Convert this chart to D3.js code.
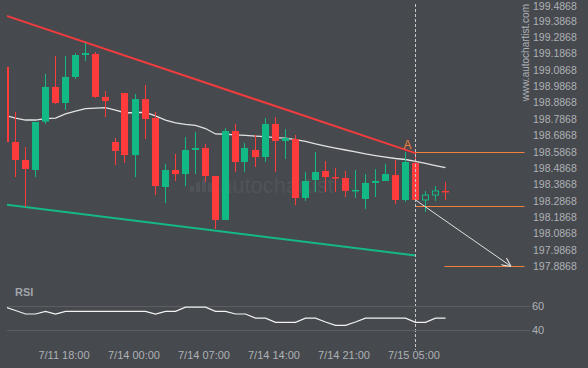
<!DOCTYPE html>
<html>
<head>
<meta charset="utf-8">
<script src="https://cdn.jsdelivr.net/npm/d3@7"></script>
<style>
  html, body { margin: 0; padding: 0; background: #46494e; }
  svg { display: block; }
  text { font-family: "Liberation Sans", Arial, sans-serif; }
</style>
</head>
<body>
<svg id="chart" width="588" height="368"></svg>
<script>
// ---- data ----
const opens  = [199.104,198.646,198.536,198.475,198.770,198.982,198.884,199.043,199.177,199.183,198.921,198.646,198.945,198.566,198.908,198.792,198.371,198.475,198.450,198.597,198.609,198.438,198.170,198.713,198.524,198.597,198.554,198.756,198.652,198.664,198.304,198.414,198.469,198.432,198.426,198.347,198.298,198.396,198.408,198.444,198.292,198.518,198.292,198.322,198.347];
const highs  = [199.104,198.829,198.615,198.768,199.061,199.171,199.171,199.189,199.250,199.195,198.957,198.670,198.945,198.939,198.994,198.829,198.512,198.573,198.676,198.707,198.634,198.438,198.731,198.756,198.640,198.689,198.792,198.798,198.725,198.689,198.463,198.585,198.530,198.487,198.469,198.475,198.450,198.481,198.512,198.536,198.585,198.585,198.347,198.377,198.402];
const lows   = [198.640,198.432,198.249,198.432,198.756,198.878,198.841,199.030,199.140,198.914,198.798,198.505,198.518,198.432,198.664,198.322,198.273,198.408,198.377,198.450,198.402,198.115,198.170,198.463,198.463,198.493,198.524,198.463,198.542,198.261,198.286,198.341,198.341,198.341,198.310,198.304,198.237,198.310,198.408,198.267,198.280,198.292,198.218,198.286,198.292];
const closes = [198.646,198.536,198.481,198.768,198.982,198.884,199.043,199.177,199.189,198.921,198.896,198.591,198.566,198.908,198.786,198.377,198.475,198.450,198.597,198.609,198.438,198.170,198.713,198.524,198.609,198.554,198.756,198.652,198.670,198.304,198.408,198.463,198.432,198.426,198.347,198.353,198.396,198.408,198.450,198.292,198.524,198.292,198.322,198.347,198.341];
const maValues = [198.808,198.792,198.780,198.780,198.789,198.792,198.817,198.835,198.850,198.853,198.856,198.841,198.823,198.826,198.826,198.805,198.780,198.762,198.753,198.747,198.728,198.695,198.693,198.689,198.686,198.682,198.679,198.673,198.670,198.661,198.649,198.634,198.621,198.609,198.597,198.585,198.573,198.563,198.554,198.545,198.539,198.527,198.515,198.502,198.490];
const rsiValues = [59.0,56.3,53.4,53.4,55.6,53.4,55.6,55.6,55.6,55.6,55.6,55.6,55.6,55.6,55.6,53.4,55.6,55.6,59.0,59.0,59.0,55.6,55.6,53.4,53.4,50.0,50.0,46.6,46.6,46.6,50.0,50.0,46.8,44.1,44.1,46.8,50.0,50.0,50.0,50.0,50.0,46.6,46.6,50.0,50.0];
const xTickIndex  = [6, 13, 20, 27, 34, 41];
const xTickLabels = ["7/11 18:00","7/14 00:00","7/14 07:00","7/14 14:00","7/14 21:00","7/15 05:00"];
const yTickValues = [199.4868,199.3868,199.2868,199.1868,199.0868,198.9868,198.8868,198.7868,198.6868,198.5868,198.4868,198.3868,198.2868,198.1868,198.0868,197.9868,197.8868];
const rsiTicks = [60, 40];
const resistanceLine = [[0, 199.418], [41, 198.578]];
const supportLine    = [[0, 198.264], [41, 197.953]];
const patternIndex = 41;
const resistanceLevel = 198.5868;
const supportLevel = 198.258;
const targetLevel = 197.8868;
const levelEndIndex = 51.9;
const targetStartIndex = 43.9;
const forecastArrow = [[41, 198.292], [50.55, 197.8868]];

// ---- styles ----
const BG = "#46494e", UP = "#13b985", DOWN = "#ff3b3b", ORANGE = "#f0803c", TXT = "#aeb1b5";

const svg = d3.select("#chart");
const x = d3.scaleLinear().domain([0, 44]).range([5.5, 445.5]);
const y = d3.scaleLinear().domain([197.8868, 198.5868]).range([266.33, 151.67]);
const yr = d3.scaleLinear().domain([40, 60]).range([330.3, 306]);

svg.append("rect").attr("width", 588).attr("height", 368).attr("fill", BG);

const defs = svg.append("defs");
defs.append("clipPath").attr("id", "mainClip").append("rect").attr("x", 7).attr("y", 0).attr("width", 523).attr("height", 280);
defs.append("clipPath").attr("id", "rsiClip").append("rect").attr("x", 7).attr("y", 290).attr("width", 523).attr("height", 50);
defs.append("marker").attr("id", "arrow").attr("viewBox", "0 0 10 10").attr("refX", 10).attr("refY", 5)
  .attr("markerWidth", 9).attr("markerHeight", 9).attr("orient", "auto").attr("markerUnits", "userSpaceOnUse")
  .append("path").attr("d", "M0,0 L10,5 L0,10").attr("fill", "none").attr("stroke", "#e0e0e0").attr("stroke-width", 1.2);

// watermark
const wm = svg.append("g");
[[0,6],[1,10],[2,14],[3,9]].forEach(([k,h]) => {
  wm.append("rect").attr("x", 190 + k * 6).attr("y", 192 - h).attr("width", 4).attr("height", h).attr("fill", "#505459");
});
wm.append("text").attr("x", 220).attr("y", 193).attr("font-size", 22).attr("fill", "#505459").text("autochartist");

// vertical watermark
svg.append("text").attr("transform", "translate(528.5,4) rotate(-90)").attr("text-anchor", "end")
  .attr("font-size", 10).attr("fill", TXT).text("www.autochartist.com");

const main = svg.append("g").attr("clip-path", "url(#mainClip)");

// trend lines
const ln = d3.line().x(d => x(d[0])).y(d => y(d[1]));
main.append("path").attr("d", ln(resistanceLine)).attr("stroke", "#f03c3c").attr("stroke-width", 2).attr("fill", "none");
main.append("path").attr("d", ln(supportLine)).attr("stroke", "#14b986").attr("stroke-width", 2).attr("fill", "none");

// moving average
main.append("path").attr("d", d3.line().x((d, i) => x(i)).y(d => y(d))(maValues))
  .attr("stroke", "#e2e2e2").attr("stroke-width", 1.3).attr("fill", "none");

// candles
const idx = d3.range(opens.length);
const cg = main.append("g");
idx.forEach(i => {
  const up = closes[i] >= opens[i];
  const col = up ? UP : DOWN;
  const cx = Math.round(x(i)) - 0.5;
  cg.append("line").attr("x1", cx).attr("x2", cx).attr("y1", y(highs[i])).attr("y2", y(lows[i]))
    .attr("stroke", col).attr("stroke-width", 1);
  const top = y(Math.max(opens[i], closes[i]));
  const h = Math.max(1.5, Math.abs(y(opens[i]) - y(closes[i])));
  const hollow = up && i > patternIndex;
  if (hollow) {
    cg.append("rect").attr("x", cx - 3).attr("y", top).attr("width", 6).attr("height", h)
      .attr("fill", BG).attr("stroke", col).attr("stroke-width", 1);
  } else {
    cg.append("rect").attr("x", cx - 3.5).attr("y", top).attr("width", 7).attr("height", h).attr("fill", col);
  }
});

// levels
const levelG = svg.append("g");
[[patternIndex, levelEndIndex, resistanceLevel], [patternIndex, levelEndIndex, supportLevel], [targetStartIndex, levelEndIndex, targetLevel]]
  .forEach(([a, b, v]) => {
    levelG.append("line").attr("x1", x(a)).attr("x2", x(b)).attr("y1", Math.round(y(v)) + 0.5).attr("y2", Math.round(y(v)) + 0.5)
      .attr("stroke", ORANGE).attr("stroke-width", 1);
  });
levelG.append("text").attr("x", x(patternIndex) - 8).attr("y", y(resistanceLevel) - 3).attr("text-anchor", "middle")
  .attr("font-size", 12).attr("fill", ORANGE).text("A");

// forecast arrow
svg.append("path").attr("d", ln(forecastArrow)).attr("stroke", "#e0e0e0").attr("stroke-width", 1)
  .attr("fill", "none").attr("marker-end", "url(#arrow)");

// dashed vertical
svg.append("line").attr("x1", Math.round(x(patternIndex)) - 0.5).attr("x2", Math.round(x(patternIndex)) - 0.5)
  .attr("y1", 4).attr("y2", 350).attr("stroke", "#c8c8c8").attr("stroke-width", 1).attr("stroke-dasharray", "3,2");

// y axis
const yAxis = svg.append("g").attr("transform", "translate(533,0)")
  .call(d3.axisRight(y).tickValues(yTickValues).tickSize(0).tickPadding(0).tickFormat(d3.format(".4f")));
yAxis.select(".domain").remove();
yAxis.selectAll("text").attr("fill", TXT).attr("font-size", 10.5).attr("font-family", "Liberation Sans, Arial, sans-serif")
  .attr("dy", (d, i) => i === 0 ? "0.52em" : "0.32em");

// RSI panel
svg.append("text").attr("x", 15).attr("y", 296).attr("font-size", 11).attr("font-weight", "bold").attr("fill", "#a0a4aa").text("RSI");
rsiTicks.forEach(t => {
  svg.append("line").attr("x1", 7).attr("x2", 530).attr("y1", Math.round(yr(t)) + 0.5).attr("y2", Math.round(yr(t)) + 0.5)
    .attr("stroke", "#5b5f64").attr("stroke-width", 1);
});
const rAxis = svg.append("g").attr("transform", "translate(532,0)")
  .call(d3.axisRight(yr).tickValues(rsiTicks).tickSize(0).tickPadding(0));
rAxis.select(".domain").remove();
rAxis.selectAll("text").attr("fill", TXT).attr("font-size", 11).attr("font-family", "Liberation Sans, Arial, sans-serif");

svg.append("g").attr("clip-path", "url(#rsiClip)").append("path")
  .attr("d", d3.line().x((d, i) => x(i)).y(d => yr(d))(rsiValues))
  .attr("stroke", "#f2f2f2").attr("stroke-width", 1.2).attr("fill", "none");

// x axis
const xAxis = svg.append("g").attr("transform", "translate(-2,348)")
  .call(d3.axisBottom(x).tickValues(xTickIndex).tickSize(0).tickPadding(3)
    .tickFormat((d, i) => xTickLabels[i]));
xAxis.select(".domain").remove();
xAxis.selectAll("text").attr("fill", TXT).attr("font-size", 11).attr("font-family", "Liberation Sans, Arial, sans-serif");
</script>
</body>
</html>
